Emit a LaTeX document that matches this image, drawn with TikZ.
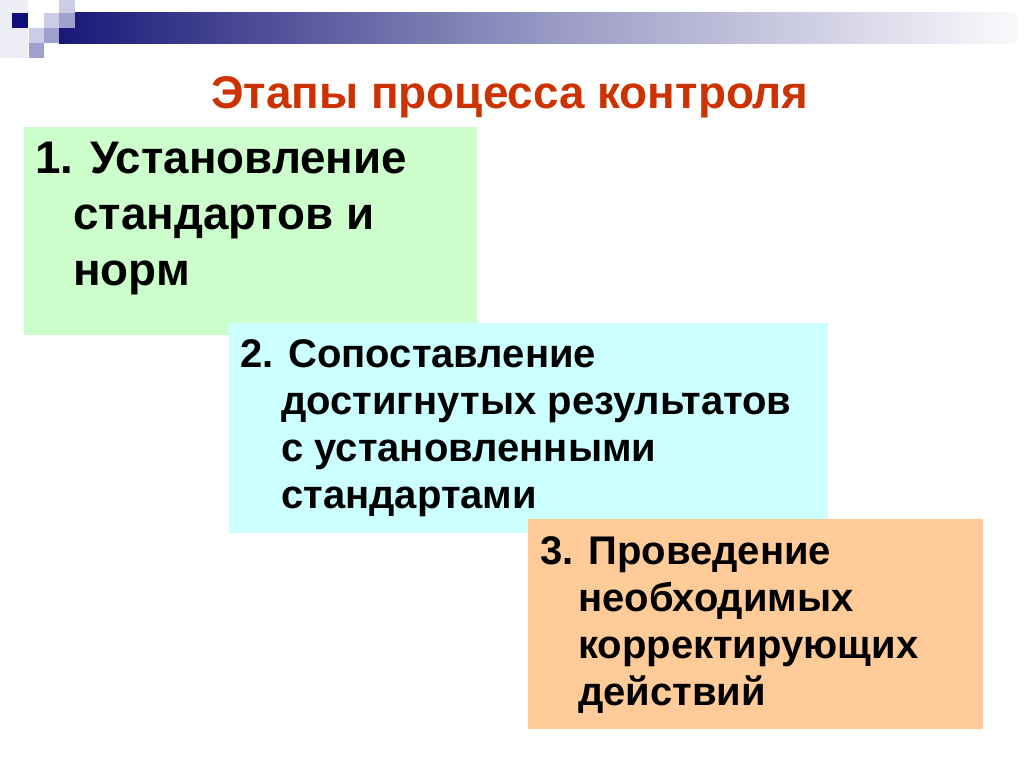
\documentclass[tikz,border=0pt]{standalone}
\usepackage{fontspec}
\setmainfont{Liberation Sans}
\definecolor{navy}{RGB}{24,24,120}
\definecolor{barmid}{RGB}{150,150,195}
\definecolor{barend}{RGB}{250,250,252}
\definecolor{sqfaint}{RGB}{238,238,246}
\definecolor{sqlight}{RGB}{204,204,230}
\definecolor{sqmed}{RGB}{160,160,208}
\definecolor{sqdark}{RGB}{16,16,124}
\definecolor{titlecol}{RGB}{204,51,0}
\definecolor{boxgreen}{RGB}{204,255,204}
\definecolor{boxcyan}{RGB}{204,255,255}
\definecolor{boxorange}{RGB}{255,204,153}
\tikzset{
  stagebox/.style={draw=none, inner sep=0pt, anchor=north west},
  bigtext/.style={anchor=base west, inner sep=0pt, align=left, font=\fontsize{45.7}{56}\selectfont\bfseries},
  smalltext/.style={anchor=base west, inner sep=0pt, align=left, font=\fontsize{40}{46.7}\selectfont\bfseries}
}
\begin{document}
\begin{tikzpicture}[x=1pt,y=-1pt]
\useasboundingbox (0,0) rectangle (1024,767);
\fill[white] (0,0) rectangle (1024,767);
% decoration
\fill[sqfaint] (0,0) rectangle (28,58);
\shade[left color=navy, right color=barend, middle color=barmid] (59,13) rectangle (1018,44);
\fill[sqdark] (12,13) rectangle (28,28);
\fill[sqlight] (44,13) rectangle (59,28);
\fill[sqlight] (59,0) rectangle (75,13);
\fill[sqmed] (59,13) rectangle (75,28);
\fill[sqlight] (29,28) rectangle (44,43);
\fill[sqmed] (44,28) rectangle (59,43);
\fill[sqmed] (29,43) rectangle (44,58);
% title
\node[anchor=base, inner sep=0pt, text=titlecol, font=\fontsize{45.8}{54}\selectfont\bfseries] (title) at (510,109) {Этапы процесса контроля};
% boxes
\node[stagebox, fill=boxgreen, minimum width=453pt, minimum height=208pt] (b1) at (24,127) {};
\node[stagebox, fill=boxcyan, minimum width=599pt, minimum height=210pt] (b2) at (229,323) {};
\node[stagebox, fill=boxorange, minimum width=455pt, minimum height=210pt] (b3) at (528,519) {};
% texts (base anchor = last line)
\node[bigtext] (t1) at (35,285) {1. Установление\\\hspace*{38pt}стандартов и\\\hspace*{38pt}норм};
\node[smalltext] (t2) at (240,508) {2. Сопоставление\\\hspace*{41pt}достигнутых результатов\\\hspace*{41pt}с установленными\\\hspace*{41pt}стандартами};
\node[smalltext] (t3) at (540,705) {3. Проведение\\\hspace*{38pt}необходимых\\\hspace*{38pt}корректирующих\\\hspace*{38pt}действий};
\end{tikzpicture}
\end{document}
